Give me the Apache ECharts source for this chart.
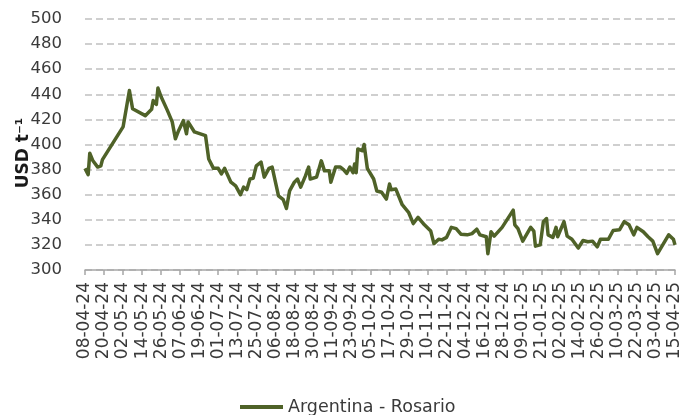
<!DOCTYPE html>
<html>
<head>
<meta charset="utf-8">
<title>Argentina - Rosario</title>
<script src="https://cdn.jsdelivr.net/npm/echarts@6/dist/echarts.min.js"></script>
<style>
  html, body { margin: 0; padding: 0; background: #fff; }
  #chart { width: 697px; height: 415px; }
</style>
</head>
<body>
<div id="chart"></div>
<script>
// price readings (date, USD per tonne)
var dates = [
  '2024-04-08', '2024-04-10', '2024-04-11', '2024-04-13', '2024-04-16', '2024-04-18', '2024-04-19',
  '2024-05-02', '2024-05-06', '2024-05-08', '2024-05-16', '2024-05-20', '2024-05-21', '2024-05-23',
  '2024-05-24', '2024-05-26', '2024-05-30', '2024-06-02', '2024-06-04', '2024-06-06', '2024-06-09',
  '2024-06-11', '2024-06-12', '2024-06-16', '2024-06-23', '2024-06-25', '2024-06-28', '2024-07-01',
  '2024-07-03', '2024-07-05', '2024-07-09', '2024-07-12', '2024-07-15', '2024-07-17', '2024-07-19',
  '2024-07-21', '2024-07-23', '2024-07-25', '2024-07-28', '2024-07-30', '2024-08-02', '2024-08-04',
  '2024-08-08', '2024-08-11', '2024-08-13', '2024-08-15', '2024-08-18', '2024-08-20', '2024-08-22',
  '2024-08-25', '2024-08-27', '2024-08-28', '2024-09-01', '2024-09-04', '2024-09-06', '2024-09-09',
  '2024-09-10', '2024-09-13', '2024-09-16', '2024-09-18', '2024-09-20', '2024-09-22', '2024-09-24',
  '2024-09-25', '2024-09-26', '2024-09-27', '2024-09-30', '2024-10-01', '2024-10-03', '2024-10-07',
  '2024-10-09', '2024-10-12', '2024-10-15', '2024-10-17', '2024-10-18', '2024-10-21', '2024-10-25',
  '2024-10-29', '2024-11-01', '2024-11-04', '2024-11-08', '2024-11-12', '2024-11-14', '2024-11-17',
  '2024-11-19', '2024-11-22', '2024-11-25', '2024-11-28', '2024-12-01', '2024-12-05', '2024-12-08',
  '2024-12-11', '2024-12-13', '2024-12-17', '2024-12-18', '2024-12-20', '2024-12-22', '2024-12-27',
  '2025-01-03', '2025-01-04', '2025-01-06', '2025-01-09', '2025-01-14', '2025-01-16', '2025-01-17',
  '2025-01-20', '2025-01-22', '2025-01-24', '2025-01-25', '2025-01-28', '2025-01-30', '2025-01-31',
  '2025-02-04', '2025-02-06', '2025-02-09', '2025-02-13', '2025-02-16', '2025-02-19', '2025-02-22',
  '2025-02-25', '2025-02-27', '2025-03-04', '2025-03-07', '2025-03-11', '2025-03-14', '2025-03-17',
  '2025-03-20', '2025-03-22', '2025-03-26', '2025-03-29', '2025-04-01', '2025-04-04', '2025-04-11',
  '2025-04-14', '2025-04-15'
];
var rosario = [
  381, 376, 393, 387, 382, 383, 388,
  414, 443, 428.5, 423, 428, 435, 432,
  445, 438, 427, 418, 404.5, 411, 419,
  408.5, 418, 410, 407, 388.5, 381, 381,
  376.5, 381, 370, 367, 360, 366, 364,
  372.5, 373, 383, 386, 374, 381, 382,
  359, 356, 349, 363, 370, 372.5, 366,
  375, 382, 372.5, 374, 387, 379, 379,
  370, 382, 382, 380, 377, 382, 377.5,
  384.5, 377.5, 396.5, 395, 400, 381, 372.5,
  363, 362, 356.5, 368.5, 364, 364.5, 352,
  346, 337, 342, 336, 331, 321, 324.5,
  324, 326, 334, 333, 328.5, 328, 329,
  332.5, 328, 326.5, 313, 330.5, 327, 334,
  347.7, 336, 333, 323, 334, 331, 319,
  320, 338.5, 341, 328, 326, 334, 326.5,
  338.5, 327, 324.5, 317.5, 323.5, 322.5, 323,
  318.5, 324.5, 324.5, 331.5, 332, 338.5, 336,
  328, 334, 330.5, 326.5, 323, 313, 328,
  324.5, 320
];
var tickLabels = [
  '08-04-24', '20-04-24', '02-05-24', '14-05-24', '26-05-24', '07-06-24', '19-06-24', '01-07-24',
  '13-07-24', '25-07-24', '06-08-24', '18-08-24', '30-08-24', '11-09-24', '23-09-24', '05-10-24',
  '17-10-24', '29-10-24', '10-11-24', '22-11-24', '04-12-24', '16-12-24', '28-12-24', '09-01-25',
  '21-01-25', '02-02-25', '14-02-25', '26-02-25', '10-03-25', '22-03-25', '03-04-25', '15-04-25'
];

var DAY = 86400000;
var t0 = Date.parse('2024-04-08T00:00:00Z');
var seriesData = dates.map(function (d, i) {
  return [Math.round((Date.parse(d + 'T00:00:00Z') - t0) / DAY), rosario[i]];
});

var txt = '#3a3a3a';
var font = 'DejaVu Sans';
var green = '#4f6228';

var chart = echarts.init(document.getElementById('chart'));
chart.setOption({
  animation: false,
  grid: { left: 85, right: 22, top: 19, bottom: 145 },
  legend: {
    data: ['Argentina - Rosario'],
    icon: 'rect',
    left: 235, top: 393,
    itemWidth: 43, itemHeight: 4,
    textStyle: { fontFamily: font, fontSize: 17.5, color: txt }
  },
  xAxis: {
    type: 'value',
    min: 0, max: 372, interval: 12,
    axisLine: { show: true, lineStyle: { color: '#a6a6a6', width: 1.5 } },
    axisTick: { show: true, length: 5, lineStyle: { color: '#a6a6a6', width: 1.5 } },
    splitLine: { show: false },
    axisLabel: {
      rotate: 90, margin: 12,
      fontFamily: font, fontSize: 17, color: txt,
      formatter: function (v) { return tickLabels[Math.round(v / 12)]; }
    }
  },
  yAxis: {
    type: 'value',
    min: 300, max: 500, interval: 20,
    axisLine: { show: false },
    axisTick: { show: false },
    axisLabel: { margin: 23, fontFamily: font, fontSize: 16.5, color: txt },
    splitLine: { lineStyle: { color: '#c0c0c0', width: 1.5, type: [7, 4] } }
  },
  graphic: [{
    type: 'text',
    x: 24, y: 153,
    rotation: Math.PI / 2,
    style: {
      text: 'USD t\u207B\u00B9',
      font: 'bold 17px "DejaVu Sans"',
      fill: '#1a1a1a',
      align: 'center',
      verticalAlign: 'middle'
    }
  }],
  series: [{
    name: 'Argentina - Rosario',
    type: 'line',
    symbol: 'none',
    data: seriesData,
    lineStyle: { color: green, width: 3.5, join: 'round' },
    itemStyle: { color: green }
  }]
});
</script>
</body>
</html>
